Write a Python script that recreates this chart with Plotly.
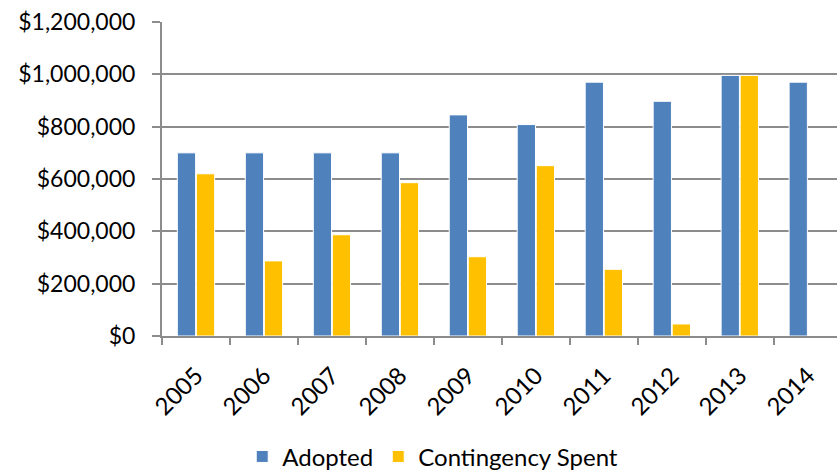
import plotly.graph_objects as go

years = ["2005", "2006", "2007", "2008", "2009", "2010", "2011", "2012", "2013", "2014"]
adopted = [700000, 700000, 700000, 700000, 845000, 808000, 970000, 897000, 996000, 970000]
contingency_spent = [620000, 287000, 387000, 586000, 303000, 651000, 255000, 46000, 996000, 0]
y_ticks = [0, 200000, 400000, 600000, 800000, 1000000, 1200000]
y_tick_labels = ["$0", "$200,000", "$400,000", "$600,000", "$800,000", "$1,000,000", "$1,200,000"]

FONT = "Lato, Open Sans, sans-serif"
GRID = "#8c8c8c"

fig = go.Figure()
fig.add_trace(go.Bar(
    x=years, y=adopted, name="Adopted",
    marker=dict(color="#4F81BD", line=dict(color="white", width=1)),
))
fig.add_trace(go.Bar(
    x=years, y=contingency_spent, name="Contingency Spent",
    marker=dict(color="#FFC000", line=dict(color="white", width=1)),
))

fig.update_layout(
    width=837, height=470,
    margin=dict(l=162, r=0, t=22, b=134),
    paper_bgcolor="white", plot_bgcolor="white",
    barmode="group", bargap=0.44, bargroupgap=0.04,
    font=dict(family=FONT, size=23, color="black"),
    showlegend=True,
    legend=dict(
        orientation="h", xref="container", yref="container",
        x=0.517, y=0.028, xanchor="center", yanchor="middle",
        font=dict(size=24), itemwidth=30, traceorder="normal",
    ),
    xaxis=dict(
        type="category", range=[-0.5, 9.43],
        tickangle=-45, showgrid=False,
        showline=True, linecolor=GRID, linewidth=2,
        ticks="outside", ticklen=7, tickcolor=GRID, tickwidth=2,
        tickson="boundaries", ticklabelstandoff=14,
        tickfont=dict(size=24),
    ),
    yaxis=dict(
        range=[0, 1200000], tickvals=y_ticks, ticktext=y_tick_labels,
        showgrid=True, gridcolor=GRID, gridwidth=2,
        showline=True, linecolor=GRID, linewidth=2,
        ticks="outside", ticklen=8, tickcolor=GRID, tickwidth=2,
        ticklabelstandoff=12,
        zeroline=False, tickfont=dict(size=23),
    ),
)

fig.write_html("out.html")
